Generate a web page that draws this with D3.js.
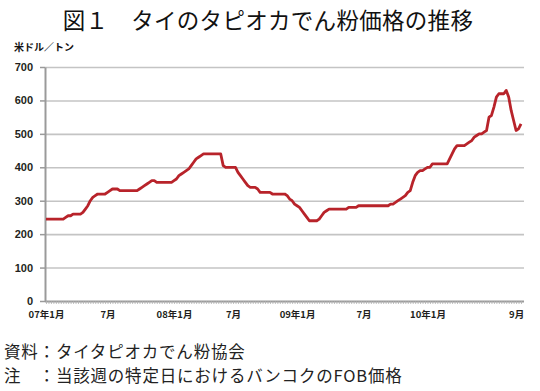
<!DOCTYPE html>
<html><head><meta charset="utf-8">
<script src="https://cdn.jsdelivr.net/npm/d3@7"></script>
<style>
html,body{margin:0;padding:0;background:#fff;}
svg{display:block;}
text{font-family:"Noto Sans CJK JP","Noto Sans",sans-serif;}
</style></head>
<body>
<svg id="c" width="540" height="391"></svg>
<script>
// weekly FOB price (USD/ton), Jan 2007 - Sep 2010
const prices = [
245,245,245,245,245,245,245,245,250,255,
255,260,260,260,260,265,275,285,300,310,
315,320,320,320,320,325,330,335,335,335,
330,330,330,330,330,330,330,330,335,340,
345,350,355,360,360,355,355,355,355,355,
355,355,360,365,375,380,385,390,395,405,
415,425,430,435,440,440,440,440,440,440,
440,440,405,400,400,400,400,400,385,375,
365,355,345,340,340,340,335,325,325,325,
325,325,320,320,320,320,320,320,315,305,
300,290,285,280,270,260,250,240,240,240,
240,245,255,265,270,275,275,275,275,275,
275,275,275,280,280,280,280,285,285,285,
285,285,285,285,285,285,285,285,285,285,
290,290,295,300,305,310,315,325,330,355,
375,385,390,390,395,400,400,410,410,410,
410,410,410,410,425,440,455,465,465,465,
465,470,475,480,490,495,500,500,505,510,
550,555,580,610,620,620,620,630,610,570,
540,510,515,530
];
const tickIdx = [0, 25, 52, 76, 102, 129, 155, 191];
const tickLabels = ["07年1月","7月","08年1月","7月","09年1月","7月","10年1月","9月"];
const yTicks = [0,100,200,300,400,500,600,700];
const title = "図１　タイのタピオカでん粉価格の推移";
const unitLabel = "米ドル／トン";
const notes = ["資料：タイタピオカでん粉協会","注　：当該週の特定日におけるバンコクのFOB価格"];

const svg = d3.select("#c");
const L = 45, R = 524, T = 67, B = 301;
const x = d3.scaleLinear().domain([0, prices.length-1]).range([46, 521]);
const y = d3.scaleLinear().domain([0, 700]).range([B, T]);

// title
svg.append("text").attr("x", 268).attr("y", 29).attr("text-anchor","middle")
  .attr("font-size", 22.5).attr("letter-spacing", 0.3).attr("fill","#111").text(title);
svg.append("text").attr("x", 14).attr("y", 51).attr("font-size", 10)
  .attr("font-weight","bold").attr("fill","#111").text(unitLabel);

// gridlines
svg.append("g").attr("transform",`translate(${L},0)`)
  .call(d3.axisLeft(y).tickValues(yTicks.slice(1)).tickSize(-(R-L)).tickFormat(""))
  .call(g=>g.select(".domain").remove())
  .call(g=>g.selectAll("line").attr("stroke","#c4c4c4").attr("stroke-width",1.6));

// y axis
svg.append("g").attr("transform",`translate(${L},0)`)
  .call(d3.axisLeft(y).tickValues(yTicks).tickSize(5).tickPadding(7).tickSizeOuter(0))
  .call(g=>g.select(".domain").attr("stroke","#9a9a9a").attr("stroke-width",2))
  .call(g=>g.selectAll("line").attr("stroke","#9a9a9a").attr("stroke-width",1.5))
  .call(g=>g.selectAll("text").attr("font-size",11).attr("font-weight","bold")
    .attr("fill","#231f20").style("font-family","'Liberation Sans',Arial,sans-serif"));

// x axis minor ticks
svg.append("g").attr("transform",`translate(0,${B})`)
  .call(d3.axisBottom(x).tickValues(d3.range(prices.length)).tickSize(3).tickFormat("").tickSizeOuter(0))
  .call(g=>g.select(".domain").attr("stroke","#9a9a9a").attr("stroke-width",2).attr("d",`M${L},0.5H${R}`))
  .call(g=>g.selectAll(".tick line").attr("stroke","#b0b0b0").attr("stroke-width",0.8));

// x labels
svg.append("g").attr("transform",`translate(0,${B})`)
  .call(d3.axisBottom(x).tickValues(tickIdx).tickSize(0).tickPadding(10)
    .tickFormat((d,i)=>tickLabels[i]))
  .call(g=>g.select(".domain").remove())
  .call(g=>g.selectAll("text").attr("font-size",9.5).attr("font-weight","bold").attr("fill","#231f20"));

// line
svg.append("path").datum(prices)
  .attr("fill","none").attr("stroke","#b8232a").attr("stroke-width",2.8)
  .attr("stroke-linejoin","round")
  .attr("d", d3.line().x((d,i)=>x(i)).y(d=>y(d)));

// notes
notes.forEach((t,i)=>{
  svg.append("text").attr("x",4).attr("y",358+i*24).attr("font-size",16.5)
    .attr("letter-spacing",0.8).attr("fill","#222").text(t);
});
</script>
</body></html>
